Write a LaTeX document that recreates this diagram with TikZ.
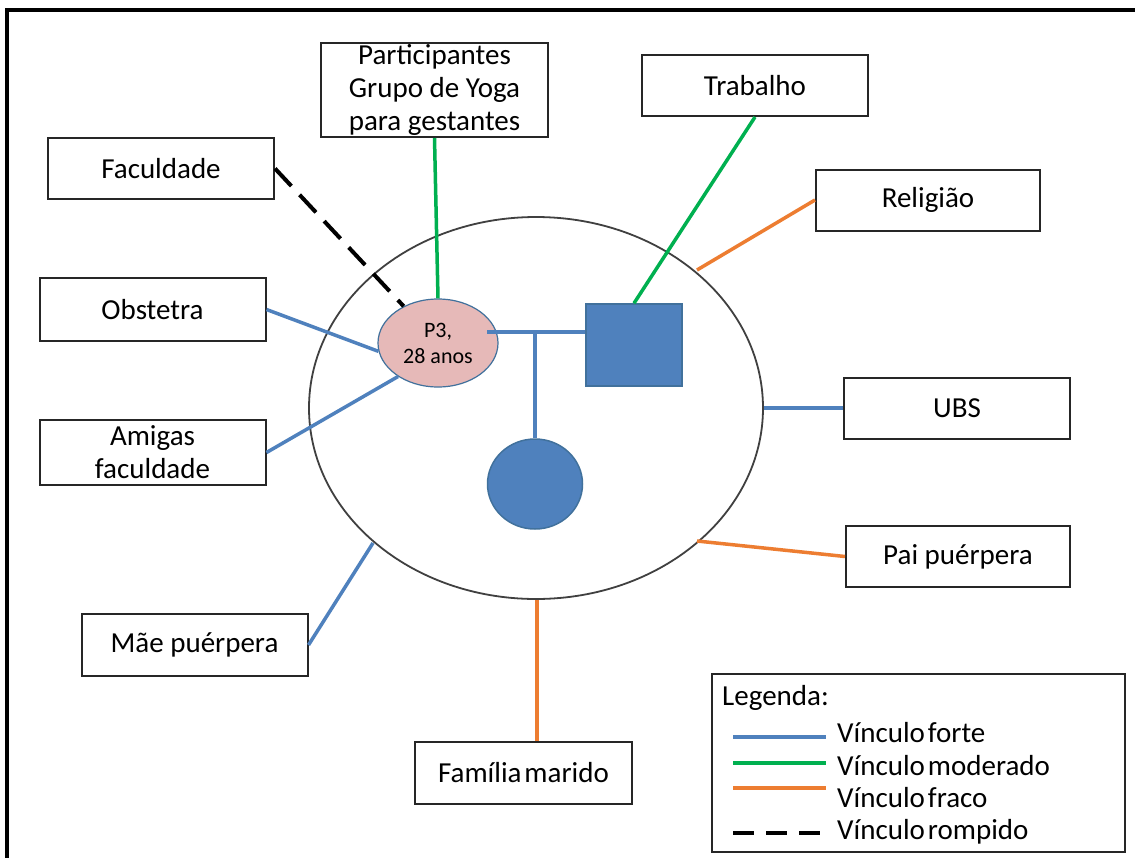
\documentclass[tikz,border=0pt]{standalone}
\usepackage{fontspec}
\setmainfont{Carlito}
\usetikzlibrary{shapes.geometric}
\definecolor{tieblue}{HTML}{4F81BD}
\definecolor{tiegreen}{HTML}{00B050}
\definecolor{tieorange}{HTML}{ED7D31}
\definecolor{edgeblue}{HTML}{41719C}
\definecolor{egopink}{HTML}{E6B9B8}
\newcommand{\boxfont}{\fontsize{29}{33}\selectfont}
\newcommand{\egofont}{\fontsize{22}{26}\selectfont}
\begin{document}
\begin{tikzpicture}[x=1pt,y=-1pt,
  box/.style={draw=black!85, line width=2pt, fill=white, minimum width=226pt,
    minimum height=61pt, inner sep=0pt, align=center, font=\boxfont},
  strong/.style={draw=tieblue, line width=3.5pt},
  moderate/.style={draw=tiegreen, line width=3.5pt},
  weak/.style={draw=tieorange, line width=3.5pt},
  broken/.style={draw=black, line width=4pt, dash pattern=on 24pt off 12pt},
  member/.style={fill=tieblue, draw=edgeblue, line width=1.5pt, inner sep=0pt}]
\useasboundingbox (0,0) rectangle (1135,857);
\fill[white] (0,0) rectangle (1135,857);

% frame
\draw[line width=3.5pt, line cap=rect] (7,10) -- (1135,10);
\draw[line width=3.5pt, line cap=rect] (7,10) -- (7,857);

% household ring
\node[draw=black!75, line width=1.8pt, ellipse, minimum width=454pt,
  minimum height=382pt, inner sep=0pt] (ring) at (536,408) {};

% network boxes
\node[box, minimum width=227pt, minimum height=94pt] (yoga) at (434.5,90)
  {Participantes\\Grupo de Yoga\\para gestantes};
\node[box] (trab) at (755,85.5) {Trabalho};
\node[box] (fac) at (161,168.5) {Faculdade};
\node[box, minimum width=224pt] (rel) at (928,200) {Religião};
\node[box, minimum height=63pt] (obs) at (152.5,309.5) {Obstetra};
\node[box] (ubs) at (957,408.5) {UBS};
\node[box, minimum height=65pt] (ami) at (152.5,452.5) {Amigas\\faculdade};
\node[box, minimum width=224pt] (pai) at (958,556.5) {Pai puérpera};
\node[box, minimum height=62pt] (mae) at (194.5,645) {Mãe puérpera};
\node[box, minimum width=217pt, minimum height=62pt] (fam) at (523.5,773)
  {Família\hspace{3pt}marido};

% household members
\node[ellipse, fill=egopink, draw=edgeblue, line width=1.2pt, minimum width=120pt,
  minimum height=88pt, inner sep=0pt, align=center, font=\egofont] (ego) at (438,343)
  {P3,\\28 anos};
\node[member, rectangle, minimum width=96pt, minimum height=82pt] (sq) at (634,345) {};
\node[member, ellipse, minimum width=95pt, minimum height=90pt] (circ) at (535,484) {};

% points where outside ties meet the ring
\coordinate (ringRel) at (697,270);
\coordinate (ringUbs) at (ring.east);
\coordinate (ringPai) at (697,541);
\coordinate (ringMae) at (373,543);
\coordinate (ringFam) at (537,600);

% ties
\draw[broken] (fac.east) -- (ego);
\draw[moderate] (yoga.south) -- (ego.north);
\draw[moderate] (trab.south) -- (sq.north);
\draw[weak] (rel.west) -- (ringRel);
\draw[strong] (obs.east) -- (ego.188);
\draw[strong] (ami.east) -- (ego.220);
\draw[strong] (ubs.west |- ringUbs) -- (ringUbs);
\draw[weak] (pai.west) -- (ringPai);
\draw[strong] (mae.east) -- (ringMae);
\draw[weak] (fam.north -| ringFam) -- (ringFam);

% household links
\coordinate (egoR) at (487,332);
\coordinate (jn) at (535,332);
\draw[strong] (egoR) -- (egoR -| sq.west);
\draw[strong] (jn) -- (circ.north);

% legend
\node[draw=black!85, line width=2pt, minimum width=413pt, minimum height=178pt,
  inner sep=0pt] (leg) at (918.5,762.5) {};
\node[anchor=west, font=\boxfont, inner sep=0pt] (legT) at (722,698) {Legenda:};
\node[anchor=west, font=\boxfont, inner sep=0pt] (lg1) at (837,733) {Vínculo\hspace{3pt}forte};
\node[anchor=west, font=\boxfont, inner sep=0pt] (lg2) at (837,766) {Vínculo\hspace{3pt}moderado};
\node[anchor=west, font=\boxfont, inner sep=0pt] (lg3) at (837,798) {Vínculo\hspace{3pt}fraco};
\node[anchor=west, font=\boxfont, inner sep=0pt] (lg4) at (837,832) {Vínculo\hspace{3pt}rompido};
\coordinate (s1) at (733,737); \coordinate (e1) at (826,737);
\coordinate (s2) at (733,763); \coordinate (e2) at (826,763);
\coordinate (s3) at (733,788); \coordinate (e3) at (826,788);
\coordinate (s4) at (733,833); \coordinate (e4) at (826,833);
\draw[strong] (s1) -- (e1);
\draw[moderate] (s2) -- (e2);
\draw[weak] (s3) -- (e3);
\draw[draw=black, line width=4pt, dash pattern=on 21pt off 12pt] (s4) -- (e4);
\end{tikzpicture}
\end{document}
